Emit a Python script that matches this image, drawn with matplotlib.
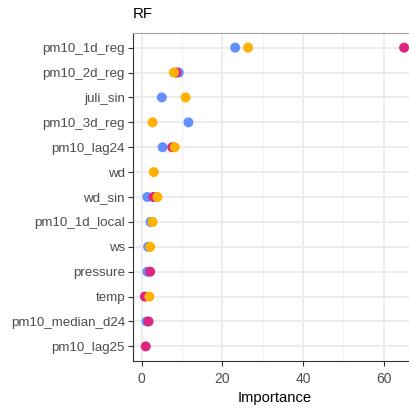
import numpy as np
import matplotlib
matplotlib.use("Agg")
import matplotlib.pyplot as plt

features = ["pm10_1d_reg", "pm10_2d_reg", "juli_sin", "pm10_3d_reg", "pm10_lag24",
            "wd", "wd_sin", "pm10_1d_local", "ws", "pressure", "temp",
            "pm10_median_d24", "pm10_lag25"]
nan = np.nan
series_blue = [23.2, 9.2, 5.0, 11.6, 5.2, nan, 1.4, 2.2, 1.6, 1.4, nan, 1.2, nan]
series_red = [65.1, 8.6, nan, nan, 7.6, nan, 2.9, nan, nan, 2.1, 0.8, 1.7, 1.0]
series_orange = [26.4, 8.0, 10.9, 2.7, 8.2, 3.0, 3.9, 2.7, 2.1, nan, 1.9, nan, nan]
x_ticks = [0, 20, 40, 60]

plt.rcParams['font.family'] = ['Liberation Sans', 'DejaVu Sans']

fig = plt.figure(figsize=(4.10, 4.11), dpi=100)
ax = fig.add_axes([0.3251, 0.1209, 0.692, 0.7995])

n = len(features)
ypos = np.arange(n)[::-1] + 1

for vals, col in [(series_blue, "#648FFF"), (series_red, "#DC267F"), (series_orange, "#FFB000")]:
    ax.scatter(vals, ypos, s=52, color=col, edgecolors="none", zorder=3)

ax.set_xlim(-2.08, 68.3)
ax.set_ylim(0.4, n + 0.6)
ax.set_xticks(x_ticks)
ax.set_xticks([10, 30, 50], minor=True)
ax.set_yticks(ypos)
ax.set_yticklabels(features)

ax.grid(which="major", color="#EBEBEB", linewidth=1.3, zorder=0)
ax.grid(which="minor", axis="x", color="#F2F2F2", linewidth=0.8, zorder=0)
ax.set_axisbelow(True)

for side in ["top", "right"]:
    ax.spines[side].set_color("#A0A0A0")
    ax.spines[side].set_linewidth(0.8)
for side in ["left", "bottom"]:
    ax.spines[side].set_color("#333333")
    ax.spines[side].set_linewidth(0.8)

ax.tick_params(axis="both", which="major", length=3.5, width=0.8, color="#333333",
               labelsize=9.6, labelcolor="#4D4D4D", pad=2.5)
ax.tick_params(axis="x", which="major", labelsize=10, pad=4)
ax.tick_params(axis="x", which="minor", length=0)

ax.set_xlabel("Importance", fontsize=10.6, color="black", labelpad=4)
fig.text(133 / 410, 1 - 14 / 411, "RF", fontsize=10.8, ha="left", va="center")

fig.savefig("out.png", dpi=100)
